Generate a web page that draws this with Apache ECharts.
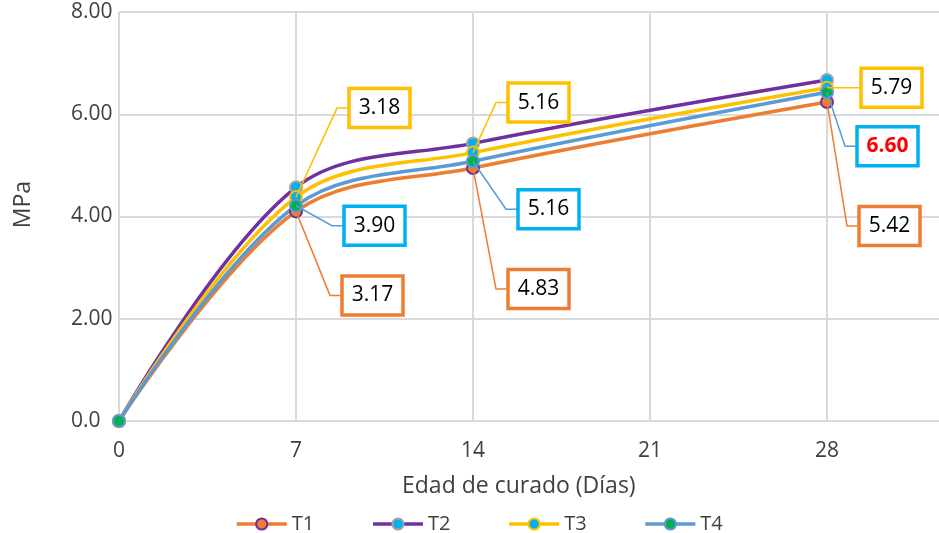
<!DOCTYPE html>
<html>
<head>
<meta charset="utf-8">
<script src="https://cdn.jsdelivr.net/npm/echarts@6/dist/echarts.min.js"></script>
<style>
  html, body { margin: 0; padding: 0; background: #ffffff; }
  #chart { width: 939px; height: 533px; }
</style>
</head>
<body>
<div id="chart"></div>
<script>
// Curing age (days) and compressive strength (MPa) per mix
const days = [0, 7, 14, 28];
const t1 = [0, 4.10, 4.95, 6.24];
const t2 = [0, 4.57, 5.43, 6.67];
const t3 = [0, 4.38, 5.25, 6.52];
const t4 = [0, 4.21, 5.08, 6.43];

// Axis ticks
const xTicks = [0, 7, 14, 21, 28];
const yTicks = [0, 2, 4, 6, 8];

// Callout texts at 7, 14 and 28 days
const calloutDays = [7, 14, 28];
const calloutT3 = ['3.18', '5.16', '5.79'];
const calloutT4 = ['3.90', '5.16', '6.60'];
const calloutT1 = ['3.17', '4.83', '5.42'];

const FONT = '"Open Sans", "Noto Sans", sans-serif';
const C = {
  orange: '#ED7D31', purple: '#7030A0', gold: '#FFC000',
  blue: '#5B9BD5', cyan: '#00B0F0', green: '#00B050', gray: '#A5A5A5',
  grid: '#D9D9D9', text: '#404040'
};

function pairs(xs, ys) { return xs.map((x, i) => [x, ys[i]]); }
function valueAt(series, day) { return series[days.indexOf(day)]; }

// Callout boxes: offset of the box (left edge, vertical centre) from the point, in px
const calloutStyle = {
  T3: { border: C.gold, line: C.gold, offsets: [[53, -89], [35, -50], [34, 0]] },
  T4: { border: C.cyan, line: C.blue, offsets: [[48, 20], [45, 48], [30, 54]] },
  T1: { border: C.orange, line: C.orange, offsets: [[46, 84], [35, 121], [32, 124]] }
};
const calloutSource = { T3: [t3, calloutT3], T4: [t4, calloutT4], T1: [t1, calloutT1] };

const callouts = [];
Object.keys(calloutSource).forEach(key => {
  const [series, texts] = calloutSource[key];
  calloutDays.forEach((d, i) => {
    callouts.push({
      x: d, y: valueAt(series, d), text: texts[i],
      border: calloutStyle[key].border, line: calloutStyle[key].line,
      dx: calloutStyle[key].offsets[i][0], dy: calloutStyle[key].offsets[i][1],
      highlight: key === 'T4' && d === 28
    });
  });
});

function lineSeries(name, data, lineColor, fill, border) {
  return {
    name, type: 'line', smooth: 0.35,
    data: pairs(days, data),
    symbol: 'circle', symbolSize: 12,
    lineStyle: { color: lineColor, width: 3.5 },
    itemStyle: { color: fill, borderColor: border, borderWidth: 2 },
    emphasis: { disabled: true },
    z: 3
  };
}

const chart = echarts.init(document.getElementById('chart'), null, { renderer: 'canvas' });

chart.setOption({
  animation: false,
  backgroundColor: '#ffffff',
  textStyle: { fontFamily: FONT },
  // the plot runs on past the right edge of the canvas (axis ends at 35 days)
  grid: { left: 119, top: 12, bottom: 112, right: -65, containLabel: false, outerBoundsMode: 'none' },
  xAxis: {
    type: 'value', min: xTicks[0], max: 35, interval: xTicks[1] - xTicks[0],
    axisLine: { show: true, lineStyle: { color: C.grid, width: 2 } },
    axisTick: { show: false },
    axisLabel: {
      color: C.text, fontSize: 21, margin: 20, fontFamily: FONT,
      formatter: v => (xTicks.indexOf(v) >= 0 ? String(v) : '')
    },
    splitLine: { show: true, lineStyle: { color: C.grid, width: 2 } }
  },
  yAxis: {
    type: 'value', min: yTicks[0], max: yTicks[yTicks.length - 1], interval: yTicks[1] - yTicks[0],
    axisLine: { show: false },
    axisTick: { show: false },
    axisLabel: {
      color: C.text, fontSize: 21, margin: 48, align: 'left', fontFamily: FONT,
      formatter: v => (v === 0 ? '0.0' : v.toFixed(2))
    },
    splitLine: { show: true, lineStyle: { color: C.grid, width: 2 } }
  },
  legend: {
    data: ['T1', 'T2', 'T3', 'T4'],
    left: 230, top: 509,
    itemWidth: 50, itemHeight: 14, itemGap: 57,
    lineStyle: { width: 3.5 },
    textStyle: { color: C.text, fontSize: 20, fontFamily: FONT }
  },
  graphic: [
    {
      type: 'text', left: 12, top: 181, rotation: Math.PI / 2,
      style: { text: 'MPa', fill: C.text, font: '23px ' + FONT }
    },
    {
      type: 'text', left: 402, top: 475,
      style: { text: 'Edad de curado (Días)', fill: C.text, font: '23px ' + FONT }
    }
  ],
  series: [
    lineSeries('T1', t1, C.orange, C.orange, C.purple),
    lineSeries('T2', t2, C.purple, C.cyan, C.gray),
    lineSeries('T3', t3, C.gold, C.cyan, C.gold),
    lineSeries('T4', t4, C.blue, C.green, C.blue),
    {
      name: 'callouts', type: 'custom', coordinateSystem: 'cartesian2d',
      data: callouts.map(c => [c.x, c.y]),
      z: 10, silent: true, clip: false,
      renderItem: function (params, api) {
        const c = callouts[params.dataIndex];
        const p = api.coord([api.value(0), api.value(1)]);
        const w = 61, h = 39;
        const left = p[0] + c.dx, cy = p[1] + c.dy;
        return {
          type: 'group',
          children: [
            {
              type: 'polyline',
              shape: { points: [[p[0], p[1]], [left - 12, cy], [left, cy]] },
              style: { stroke: c.line, lineWidth: 1.5, fill: null }
            },
            {
              type: 'rect',
              shape: { x: left, y: cy - h / 2, width: w, height: h },
              style: { fill: '#ffffff', stroke: c.border, lineWidth: 3.5 }
            },
            {
              type: 'text',
              style: {
                x: left + w / 2, y: cy, text: c.text,
                align: 'center', verticalAlign: 'middle',
                textAlign: 'center', textVerticalAlign: 'middle',
                fill: c.highlight ? '#FF0000' : '#000000',
                font: (c.highlight ? 'bold ' : '') + '21px ' + FONT
              }
            }
          ]
        };
      }
    }
  ]
});
</script>
</body>
</html>
